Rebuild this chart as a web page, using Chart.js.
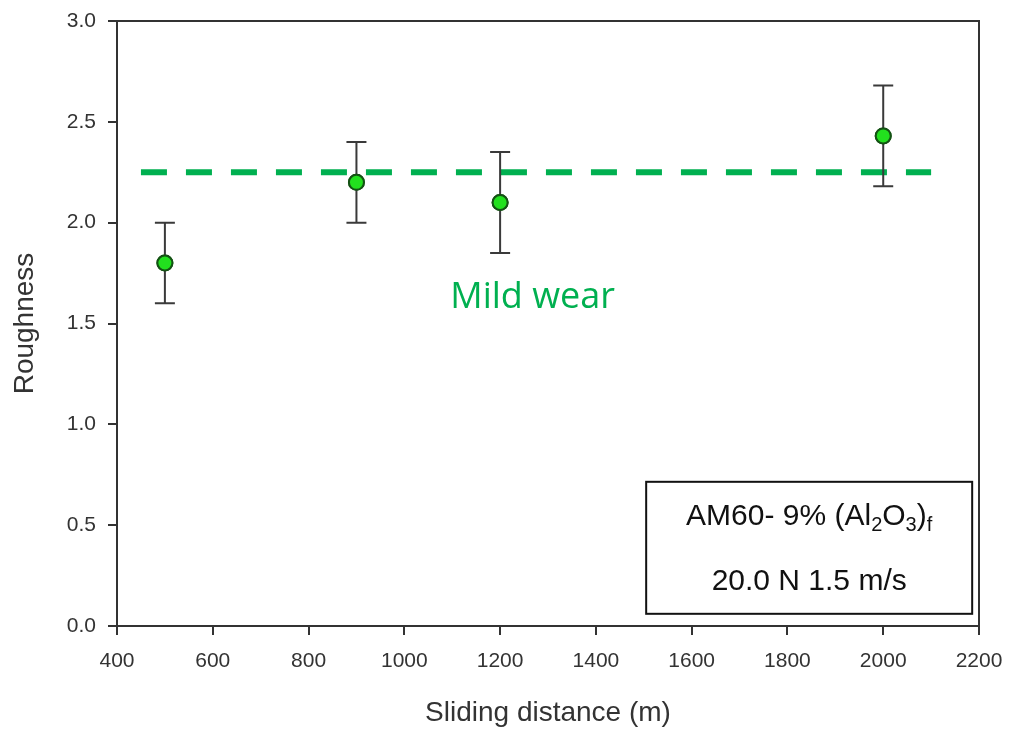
<!DOCTYPE html>
<html>
<head>
<meta charset="utf-8">
<script src="https://cdn.jsdelivr.net/npm/chart.js@4/dist/chart.umd.min.js"></script>
<style>
  html, body { margin: 0; padding: 0; background: #fff; }
  #wrap { width: 1013px; height: 733px; position: relative; }
</style>
</head>
<body>
<div id="wrap"><canvas id="chart"></canvas></div>
<script>
// sliding distance (m) and measured roughness
const distances = [500, 900, 1200, 2000];
const roughness = [1.80, 2.20, 2.10, 2.43];
const errUpper = [2.00, 2.40, 2.35, 2.68];
const errLower = [1.60, 2.00, 1.85, 2.18];

// mild wear threshold line
const thresholdX = [450, 2100];
const thresholdY = [2.25, 2.25];

const xTicks = [400, 600, 800, 1000, 1200, 1400, 1600, 1800, 2000, 2200];
const yTicks = [0.0, 0.5, 1.0, 1.5, 2.0, 2.5, 3.0];

const boxLine1 = ['AM60- 9% (Al', '2', 'O', '3', ')', 'f'];
const boxLine2 = '20.0 N 1.5 m/s';
const zoneLabel = 'Mild wear';

const axisColor = '#333';
const arial = '"Liberation Sans", Arial, sans-serif';

const errorBars = {
  id: 'errorBars',
  afterDatasetsDraw(chart) {
    const ctx = chart.ctx;
    const xs = chart.scales.x, ys = chart.scales.y;
    ctx.save();
    ctx.strokeStyle = '#3a3a3a';
    ctx.lineWidth = 2;
    distances.forEach((d, i) => {
      const px = xs.getPixelForValue(d);
      const top = ys.getPixelForValue(errUpper[i]);
      const bot = ys.getPixelForValue(errLower[i]);
      ctx.beginPath();
      ctx.moveTo(px, top); ctx.lineTo(px, bot);
      ctx.moveTo(px - 10, top); ctx.lineTo(px + 10, top);
      ctx.moveTo(px - 10, bot); ctx.lineTo(px + 10, bot);
      ctx.stroke();
    });
    ctx.restore();
    // redraw points above the bars
    chart.getDatasetMeta(1).controller.draw();
  }
};

const frameAndNotes = {
  id: 'frameAndNotes',
  afterDraw(chart) {
    const ctx = chart.ctx;
    const a = chart.chartArea;
    const xs = chart.scales.x, ys = chart.scales.y;
    ctx.save();
    // top and right frame
    ctx.strokeStyle = axisColor;
    ctx.lineWidth = 2;
    ctx.beginPath();
    ctx.moveTo(a.left, a.top); ctx.lineTo(a.right, a.top); ctx.lineTo(a.right, a.bottom);
    ctx.stroke();

    // zone label
    ctx.fillStyle = '#00b050';
    ctx.font = '36px "Open Sans", Lato, sans-serif';
    ctx.textAlign = 'center';
    ctx.textBaseline = 'middle';
    ctx.fillText(zoneLabel, xs.getPixelForValue(1268), ys.getPixelForValue(1.63));

    // info box
    const bx = xs.getPixelForValue(1505), by = ys.getPixelForValue(0.715);
    const bw = 326, bh = 132;
    ctx.fillStyle = '#fff';
    ctx.fillRect(bx, by, bw, bh);
    ctx.strokeStyle = '#111';
    ctx.lineWidth = 2;
    ctx.strokeRect(bx, by, bw, bh);

    ctx.fillStyle = '#111';
    ctx.textBaseline = 'alphabetic';
    const big = '30px ' + arial;
    const small = '20px ' + arial;
    let w = 0;
    boxLine1.forEach((s, i) => { ctx.font = i % 2 ? small : big; w += ctx.measureText(s).width; });
    let cx = bx + bw / 2 - w / 2;
    ctx.textAlign = 'left';
    boxLine1.forEach((s, i) => {
      ctx.font = i % 2 ? small : big;
      ctx.fillText(s, cx, by + 43 + (i % 2 ? 6 : 0));
      cx += ctx.measureText(s).width;
    });
    ctx.font = big;
    ctx.textAlign = 'center';
    ctx.fillText(boxLine2, bx + bw / 2, by + 108);
    ctx.restore();
  }
};

new Chart(document.getElementById('chart'), {
  type: 'scatter',
  data: {
    datasets: [
      {
        type: 'line',
        data: thresholdX.map((x, i) => ({ x: x, y: thresholdY[i] })),
        borderColor: '#00b050',
        borderWidth: 6,
        borderDash: [26, 19],
        pointRadius: 0,
        fill: false
      },
      {
        data: distances.map((x, i) => ({ x: x, y: roughness[i] })),
        pointRadius: 7.5,
        pointBackgroundColor: '#22e01e',
        pointBorderColor: '#145214',
        pointBorderWidth: 2
      }
    ]
  },
  options: {
    responsive: true,
    maintainAspectRatio: false,
    animation: false,
    layout: { padding: { top: 21, right: 34, left: 0, bottom: 0 } },
    plugins: { legend: { display: false }, tooltip: { enabled: false } },
    scales: {
      x: {
        type: 'linear',
        min: 400, max: 2200,
        afterBuildTicks: s => { s.ticks = xTicks.map(v => ({ value: v })); },
        afterFit: s => { s.height = 107; s.paddingLeft = 0; s.paddingRight = 0; },
        border: { color: axisColor, width: 2 },
        grid: { drawOnChartArea: false, drawTicks: true, tickLength: 9, color: axisColor, lineWidth: 2 },
        ticks: { color: '#333', font: { family: arial, size: 21 }, padding: 14,
                 callback: v => String(v) },
        title: { display: true, text: 'Sliding distance (m)', color: '#333',
                 font: { family: arial, size: 28 }, padding: { top: 0, bottom: 3 } }
      },
      y: {
        min: 0, max: 3,
        afterBuildTicks: s => { s.ticks = yTicks.map(v => ({ value: v })); },
        afterFit: s => { s.width = 117; s.paddingTop = 0; s.paddingBottom = 0; },
        border: { color: axisColor, width: 2 },
        grid: { drawOnChartArea: false, drawTicks: true, tickLength: 9, color: axisColor, lineWidth: 2 },
        ticks: { color: '#333', font: { family: arial, size: 21 }, padding: 12,
                 callback: v => v.toFixed(1) },
        title: { display: true, text: 'Roughness', color: '#333',
                 font: { family: arial, size: 28 }, padding: { top: 8, bottom: 0 } }
      }
    }
  },
  plugins: [errorBars, frameAndNotes]
});
</script>
</body>
</html>
